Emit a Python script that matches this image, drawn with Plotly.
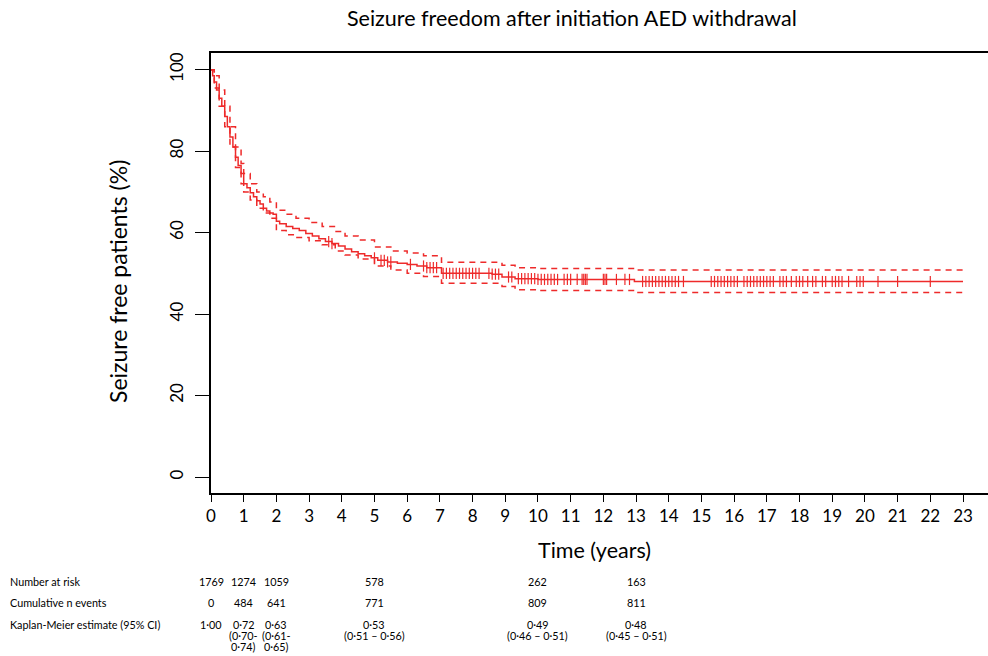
import plotly.graph_objects as go
import numpy as np

# ---------------- data ----------------
km_time = [0, 0.05, 0.1, 0.17, 0.25, 0.33, 0.42, 0.5, 0.58, 0.67, 0.75, 0.83, 0.92, 1.0,
           1.1, 1.2, 1.3, 1.4, 1.5, 1.6, 1.7, 1.8, 1.9, 2.0, 2.1, 2.3, 2.5, 2.7, 2.9, 3.1,
           3.3, 3.5, 3.7, 3.9, 4.1, 4.3, 4.5, 4.7, 4.9, 5.1, 5.4, 5.7, 6.0, 6.3, 6.6, 7.05,
           8.6, 8.9, 9.3, 10.0, 12.95, 23.0]
km_surv = [100, 98.5, 97, 95, 93, 91, 88.5, 86, 83.5, 81, 78.5, 76.5, 74.5, 72,
           71, 69.8, 68.8, 67.8, 67, 66, 65.3, 64.8, 64.5, 62.8, 62.2, 61.5, 61, 60.5, 59.8, 59.2,
           58.5, 57.8, 57.3, 56.7, 56, 55.3, 54.8, 54.3, 53.8, 53.2, 52.8, 52.5, 52.2, 51.8, 51.4, 50.0,
           49.8, 49.1, 48.7, 48.5, 48.0, 48.0]

ci_time = [0, 0.1, 0.25, 0.42, 0.58, 0.75, 0.92, 1.0, 1.2, 1.4, 1.6, 1.8, 2.0, 2.3, 2.6,
           3.0, 3.4, 3.8, 4.1, 4.5, 5.0, 5.5, 6.0, 6.5, 7.05, 8.9, 9.3, 10.0, 12.95, 23.0]
ci_upper = [100, 98.5, 95, 91, 86, 81, 77, 74.5, 72, 70, 68.8, 67.5, 65.5, 64.5, 63.5,
            62.5, 61.5, 60.3, 59.2, 58.2, 56.5, 55.5, 55.0, 54.3, 52.7, 52.0, 51.4, 51.2, 50.8, 50.8]
ci_lower = [100, 95.5, 91, 86, 81, 76, 72, 70, 68, 66, 64.8, 63.5, 60.5, 59.5, 58.8,
            58.0, 57.0, 55.5, 54.5, 53.5, 51.8, 50.8, 50.0, 49.2, 47.6, 46.8, 46.0, 45.8, 45.3, 45.3]

censor_time = [3.6, 3.7, 5.0, 5.2, 5.3, 5.4, 5.5, 6.1, 6.5, 6.6, 6.7, 6.8, 6.9,
               7.1, 7.2, 7.3, 7.4, 7.5, 7.6, 7.7, 7.8, 7.9, 8.0, 8.1, 8.2, 8.5, 8.6, 8.7, 8.8,
               9.1, 9.2, 9.4, 9.5, 9.6, 9.7, 9.8, 9.9, 10.0, 10.1, 10.2, 10.3, 10.4, 10.5, 10.6,
               10.8, 10.9, 11.0, 11.2, 11.35, 11.4, 11.45, 11.5, 12.0, 12.05, 12.1, 12.4, 12.66, 12.8,
               13.2, 13.3, 13.4, 13.5, 13.6, 13.7, 13.8, 13.9, 14.0, 14.1, 14.2, 14.3, 14.45,
               15.3, 15.4, 15.5, 15.6, 15.7, 15.8, 15.9, 16.0, 16.1, 16.3, 16.4, 16.5, 16.6, 16.7,
               16.8, 16.9, 17.0, 17.1, 17.2, 17.4, 17.5, 17.6, 17.75, 17.9, 18.0, 18.1, 18.25,
               18.4, 18.5, 18.7, 18.8, 19.0, 19.1, 19.2, 19.3, 19.5, 19.75, 19.85, 19.95, 20.4,
               21.0, 22.0]

x_ticks = list(range(0, 24))
y_ticks = [0, 20, 40, 60, 80, 100]

table_times = [0, 1, 2, 5, 10, 13]
n_at_risk = ["1769", "1274", "1059", "578", "262", "163"]
cum_events = ["0", "484", "641", "771", "809", "811"]
km_estimate = [["1·00"], ["0·72", "(0·70-", "0·74)"], ["0·63", "(0·61-", "0·65)"],
               ["0·53", "(0·51 – 0·56)"], ["0·49", "(0·46 – 0·51)"], ["0·48", "(0·45 – 0·51)"]]
row_labels = ["Number at risk", "Cumulative n events", "Kaplan-Meier estimate (95% CI)"]

# ---------------- layout helpers ----------------
W, H = 988, 656
L, R, T, B = 211, 0, 53, 163
PW, PH = W - L - R, H - T - B


def px(p):
    return (p - L) / PW


def py(p):
    return (H - B - p) / PH


RED = "#ee2a2a"
FONT = "Lato"

# step lookup for censor marks
idx = np.searchsorted(km_time, censor_time, side="right") - 1
censor_surv = [km_surv[i] for i in idx]

fig = go.Figure()
dash = "6px,5px"
fig.add_trace(go.Scatter(x=ci_time, y=ci_upper, mode="lines", line=dict(color=RED, width=1.5, dash=dash, shape="hv"),
                         showlegend=False, hoverinfo="skip"))
fig.add_trace(go.Scatter(x=ci_time, y=ci_lower, mode="lines", line=dict(color=RED, width=1.5, dash=dash, shape="hv"),
                         showlegend=False, hoverinfo="skip"))
fig.add_trace(go.Scatter(x=km_time, y=km_surv, mode="lines", line=dict(color=RED, width=1.5, shape="hv"),
                         showlegend=False))
fig.add_trace(go.Scatter(x=censor_time, y=censor_surv, mode="markers",
                         marker=dict(symbol="line-ns-open", size=8, color=RED, line=dict(color=RED, width=1.2)),
                         showlegend=False))

x_per_px = 23 / (963 - 211)
y_per_px = 100 / (477 - 69.7)

fig.update_layout(
    width=W, height=H,
    margin=dict(l=L, r=R, t=T, b=B, pad=0),
    paper_bgcolor="white", plot_bgcolor="white",
    font=dict(family=FONT, color="black"),
    xaxis=dict(range=[0, PW * x_per_px], tickvals=x_ticks, ticktext=[str(v) for v in x_ticks],
               showgrid=False, zeroline=False, showline=True, linecolor="black", linewidth=1.5,
               mirror=True, ticks="outside", ticklen=7, tickwidth=1.2, tickcolor="black",
               tickfont=dict(size=17, family=FONT)),
    yaxis=dict(range=[-(493 - 477) * y_per_px, 100 + (69.7 - 53) * y_per_px], tickvals=y_ticks,
               showgrid=False, zeroline=False, showline=True, linecolor="black", linewidth=1.5,
               ticks="outside", ticklen=14, tickwidth=1.2, tickcolor="black", tickangle=-90,
               ticklabelstandoff=5,
               tickfont=dict(size=17, family=FONT)),
)

ann = []
ann.append(dict(text="Seizure freedom after initiation AED withdrawal", x=px(572), y=py(18), xref="paper", yref="paper",
                showarrow=False, font=dict(size=21.5, family=FONT), xanchor="center", yanchor="middle"))
ann.append(dict(text="Time (years)", x=px(594), y=py(550), xref="paper", yref="paper",
                showarrow=False, font=dict(size=21.5, family=FONT), xanchor="center", yanchor="middle"))
ann.append(dict(text="Seizure free patients (%)", x=px(118), y=py(282), xref="paper", yref="paper",
                showarrow=False, font=dict(size=23, family=FONT), textangle=-90, xanchor="center", yanchor="middle"))

row_y = [581, 602, 624]
sub_dy = 11
for lab, yy in zip(row_labels, row_y):
    ann.append(dict(text=lab, x=px(8), y=py(yy), xref="paper", yref="paper", showarrow=False,
                    font=dict(size=10.8, family=FONT), xanchor="left", yanchor="middle"))
for t, a, c, k in zip(table_times, n_at_risk, cum_events, km_estimate):
    ann.append(dict(text=a, x=t, y=py(row_y[0]), xref="x", yref="paper", showarrow=False,
                    font=dict(size=10.8, family=FONT), xanchor="center", yanchor="middle"))
    ann.append(dict(text=c, x=t, y=py(row_y[1]), xref="x", yref="paper", showarrow=False,
                    font=dict(size=10.8, family=FONT), xanchor="center", yanchor="middle"))
    for j, line in enumerate(k):
        ann.append(dict(text=line, x=t, y=py(row_y[2] + j * sub_dy), xref="x", yref="paper", showarrow=False,
                        font=dict(size=10.8, family=FONT), xanchor="center", yanchor="middle"))
fig.update_layout(annotations=ann)

fig.write_html("out.html")
